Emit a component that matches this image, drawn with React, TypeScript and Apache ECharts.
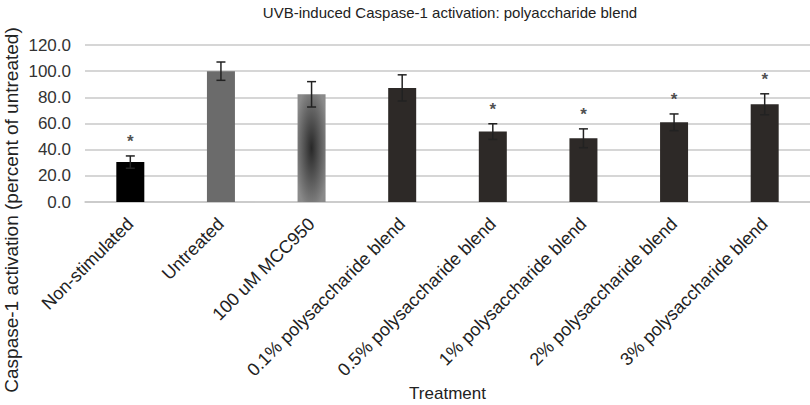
import React, { useEffect, useRef } from "react";
import * as echarts from "echarts";

const categories = [
  "Non-stimulated",
  "Untreated",
  "100 uM MCC950",
  "0.1% polysaccharide blend",
  "0.5% polysaccharide blend",
  "1% polysaccharide blend",
  "2% polysaccharide blend",
  "3% polysaccharide blend",
];
const means = [30.5, 100.0, 82.3, 87.2, 53.8, 48.7, 60.9, 74.7];
const errors = [4.7, 7.0, 9.7, 10.0, 6.0, 7.2, 6.4, 8.0];
const significant = [true, false, false, false, true, true, true, true];
const yTicks = [0, 20, 40, 60, 80, 100, 120];

const titleText = "UVB-induced Caspase-1 activation: polyaccharide blend";
const yName = "Caspase-1 activation (percent of untreated)";
const xName = "Treatment";

const FONT = "Liberation Sans, Arial, Helvetica, sans-serif";

export default function App() {
  const ref = useRef<HTMLDivElement>(null);
  useEffect(() => {
    document.body.style.margin = "0";
    if (!ref.current) return;
    const chart = echarts.init(ref.current, undefined, { renderer: "svg" });
    const dark = "#2d2927";
    const barColors: any[] = [
      "#000000",
      "#6b6b6b",
      new echarts.graphic.RadialGradient(0.5, 0.5, 0.6, [
        { offset: 0, color: "#282828" },
        { offset: 1, color: "#8a8a8a" },
      ]),
      dark,
      dark,
      dark,
      dark,
      dark,
    ];
    const option: any = {
      animation: false,
      title: {
        text: titleText,
        left: 445,
        textAlign: "center",
        top: 0,
        textStyle: { fontFamily: FONT, fontSize: 15, fontWeight: "normal", color: "#222" },
      },
      grid: { left: 85, right: 0, top: 45, bottom: 203, containLabel: false },
      xAxis: {
        type: "category",
        data: categories,
        name: xName,
        nameLocation: "middle",
        nameGap: 183,
        nameTextStyle: { fontFamily: FONT, fontSize: 17, color: "#222" },
        axisLine: { show: true, lineStyle: { color: "#c8c8c8", width: 1.5 } },
        axisTick: { show: false },
        axisLabel: {
          interval: 0,
          rotate: 45,
          margin: 19,
          fontFamily: FONT,
          fontSize: 18,
          color: "#222",
        },
      },
      yAxis: {
        type: "value",
        min: 0,
        max: 120,
        interval: 20,
        axisLine: { show: false },
        axisTick: { show: false },
        axisLabel: {
          margin: 14,
          fontFamily: FONT,
          fontSize: 17,
          color: "#333",
          formatter: (v: number) => (yTicks.includes(v) ? v.toFixed(1) : ""),
        },
        splitLine: { lineStyle: { color: "#c8c8c8", width: 1.5 } },
      },
      graphic: [
        {
          type: "text",
          x: 11,
          y: 210,
          rotation: Math.PI / 2,
          style: {
            text: yName,
            fontFamily: FONT,
            fontSize: 19,
            fill: "#222",
            align: "center",
            verticalAlign: "middle",
          },
        },
      ],
      series: [
        {
          type: "bar",
          barWidth: 28,
          data: means.map((v, i) => ({
            value: v,
            itemStyle: { color: barColors[i] },
          })),
        },
        {
          type: "custom",
          renderItem: (params: any, api: any) => {
            const i = api.value(0);
            const m = api.value(1);
            const e = api.value(2);
            const top = api.coord([i, m + e]);
            const bot = api.coord([i, m - e]);
            const cap = 4.5;
            const style = { stroke: "#222", lineWidth: 1.5 };
            return {
              type: "group",
              children: [
                { type: "line", shape: { x1: top[0], y1: top[1], x2: bot[0], y2: bot[1] }, style },
                { type: "line", shape: { x1: top[0] - cap, y1: top[1], x2: top[0] + cap, y2: top[1] }, style },
                { type: "line", shape: { x1: bot[0] - cap, y1: bot[1], x2: bot[0] + cap, y2: bot[1] }, style },
              ],
            };
          },
          data: means.map((m, i) => [i, m, errors[i]]),
          z: 5,
        },
        {
          type: "scatter",
          symbolSize: 0,
          data: means
            .map((m, i) => (significant[i] ? [i, m + errors[i]] : null))
            .filter((d) => d !== null),
          label: {
            show: true,
            position: "top",
            distance: 6,
            formatter: "*",
            fontFamily: FONT,
            fontSize: 17,
            fontWeight: "bold",
            color: "#222",
          },
          z: 6,
        },
      ],
    };
    chart.setOption(option);
    return () => chart.dispose();
  }, []);
  return <div ref={ref} style={{ width: 810, height: 405 }} />;
}
